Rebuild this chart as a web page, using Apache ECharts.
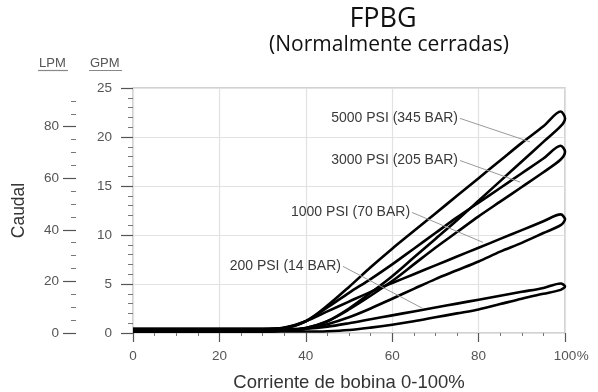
<!DOCTYPE html>
<html>
<head>
<meta charset="utf-8">
<script src="https://cdn.jsdelivr.net/npm/echarts@6/dist/echarts.min.js"></script>
<style>
  html, body { margin: 0; padding: 0; background: #fff; }
  #chart { width: 598px; height: 392px; }
</style>
</head>
<body>
<div id="chart"></div>
<script>
// ---- Data (x = % bobbin current, y = GPM) ----
const xRise = [0, 30, 35, 40, 45, 50, 55, 60, 65, 70, 75, 80, 85, 90, 95, 99];   // increasing current branch
const xFall = [99, 95, 90, 85, 80, 75, 70, 65, 60, 55, 50, 45, 40, 35, 30, 0];   // decreasing current branch
const xTip = 100;

const pressures = ['5000 PSI (345 BAR)', '3000 PSI (205 BAR)', '1000 PSI (70 BAR)', '200 PSI (14 BAR)'];

const rise5000 = [0.15, 0.15, 0.25, 0.5, 1.2, 2.5, 4.1, 5.8, 7.7, 9.6, 11.5, 13.5, 15.5, 17.5, 19.5, 21.1];
const tip5000 = 21.9;
const fall5000 = [22.6, 21.1, 19.4, 17.6, 15.8, 14.0, 12.2, 10.4, 8.6, 6.7, 4.7, 2.8, 1.2, 0.5, 0.4, 0.4];

const rise3000 = [0.15, 0.15, 0.25, 0.5, 1.2, 2.4, 3.8, 5.3, 7.0, 8.7, 10.3, 11.9, 13.4, 14.9, 16.4, 17.7];
const tip3000 = 18.5;
const fall3000 = [19.1, 17.8, 16.3, 14.8, 13.3, 11.8, 10.2, 8.6, 7.0, 5.5, 4.1, 2.6, 1.2, 0.5, 0.4, 0.4];

const rise1000 = [0.15, 0.15, 0.25, 0.45, 0.9, 1.6, 2.5, 3.5, 4.5, 5.5, 6.4, 7.3, 8.3, 9.2, 10.2, 11.0];
const tip1000 = 11.6;
const fall1000 = [12.1, 11.4, 10.5, 9.6, 8.7, 7.8, 6.9, 6.0, 5.1, 4.2, 3.2, 2.2, 1.2, 0.55, 0.4, 0.4];

const rise200 = [0.15, 0.15, 0.15, 0.15, 0.18, 0.3, 0.55, 0.85, 1.2, 1.6, 2.0, 2.4, 2.95, 3.5, 4.0, 4.4];
const tip200 = 4.75;
const fall200 = [5.05, 4.6, 4.2, 3.8, 3.4, 3.0, 2.6, 2.2, 1.8, 1.4, 1.0, 0.65, 0.45, 0.4, 0.4, 0.4];

// annotation leader lines: label anchor -> point on the loop
const labelStart = [[75.7, 21.9], [75.7, 17.6], [64.6, 12.3], [48.6, 6.8]];
const labelEnd = [[91.9, 19.5], [89.6, 15.4], [81.0, 9.25], [67.1, 2.5]];

const gpmMax = 25;
const gpmTicks = 5;
const lpmMax = 95;
const lpmLabels = [0, 20, 40, 60, 80];

// ---- Build ----
function loop(rise, tip, fall) {
  const pts = [];
  xRise.forEach((x, i) => pts.push([x, rise[i]]));
  pts.push([xTip, tip]);
  xFall.forEach((x, i) => pts.push([x, fall[i]]));
  return pts;
}
const loops = [
  loop(rise5000, tip5000, fall5000),
  loop(rise3000, tip3000, fall3000),
  loop(rise1000, tip1000, fall1000),
  loop(rise200, tip200, fall200)
];

const labelFont = '"Liberation Sans", Arial, Helvetica, sans-serif';

const series = loops.map((pts, i) => ({
  type: 'line',
  name: pressures[i],
  data: pts,
  smooth: 0.3,
  showSymbol: false,
  symbol: 'none',
  clip: false,
  lineStyle: { color: '#000', width: 2.6 },
  markLine: {
    silent: true,
    symbol: ['none', 'none'],
    animation: false,
    lineStyle: { color: '#9a9a9a', width: 1, type: 'solid' },
    label: { show: false },
    data: [[{ coord: labelStart[i] }, { coord: labelEnd[i] }]]
  },
  markPoint: {
    silent: true,
    symbol: 'circle',
    symbolSize: 0,
    animation: false,
    label: {
      show: true,
      position: 'left',
      distance: 2,
      formatter: pressures[i],
      color: '#3a3a3a',
      fontSize: 14,
      fontFamily: labelFont
    },
    data: [{ coord: labelStart[i] }]
  }
}));

const chart = echarts.init(document.getElementById('chart'), null, { renderer: 'canvas' });
chart.setOption({
  animation: false,
  backgroundColor: '#fff',
  title: [
    { text: 'FPBG', left: 378, top: 1, textAlign: 'center',
      textStyle: { fontFamily: '"Open Sans", sans-serif', fontSize: 27, fontWeight: 'normal', color: '#111' } },
    { text: '(Normalmente cerradas)', left: 384, top: 30, textAlign: 'center',
      textStyle: { fontFamily: '"Open Sans", sans-serif', fontSize: 21, fontWeight: 'normal', color: '#111' } }
  ],
  grid: {
    left: 133, right: 33, top: 88, bottom: 59,
    containLabel: false, outerBoundsMode: 'none',
    show: true, borderColor: '#c4c4c4', borderWidth: 1.5, backgroundColor: 'transparent'
  },
  xAxis: {
    type: 'value', min: 0, max: 100, interval: 20, offset: 5,
    name: 'Corriente de bobina 0-100%', nameLocation: 'middle', nameGap: 35,
    nameTextStyle: { fontFamily: labelFont, fontSize: 18.5, color: '#333' },
    axisLine: { show: false },
    axisTick: { show: true, length: 9, lineStyle: { color: '#555', width: 1.2 } },
    minorTick: { show: true, splitNumber: 4, length: 3, lineStyle: { color: '#777', width: 1 } },
    splitLine: { show: true, lineStyle: { color: '#e2e2e2', width: 1.2 } },
    axisLabel: {
      margin: 11, fontFamily: labelFont, fontSize: 13.5, color: '#555',
      formatter: v => v === 100 ? '{pad|}{n|100}{p|%}' : String(v),
      rich: {
        pad: { width: 13 },
        n: { fontFamily: labelFont, fontSize: 13.5, color: '#555' },
        p: { fontFamily: labelFont, fontSize: 13.5, color: '#555', width: 13, align: 'left' }
      }
    }
  },
  yAxis: [
    {
      type: 'value', min: 0, max: gpmMax, interval: gpmTicks, position: 'left', offset: 6,
      axisLine: { show: false },
      axisTick: { show: true, length: 12, lineStyle: { color: '#555', width: 1.2 } },
      minorTick: { show: true, splitNumber: 5, length: 5, lineStyle: { color: '#777', width: 1 } },
      splitLine: { show: true, lineStyle: { color: '#e2e2e2', width: 1.2 } },
      axisLabel: { margin: 15, fontFamily: labelFont, fontSize: 13.5, color: '#555' }
    },
    {
      type: 'value', min: 0, max: lpmMax, interval: 20, position: 'left', offset: 57,
      name: 'Caudal', nameLocation: 'middle', nameGap: 48, nameRotate: 90,
      nameTextStyle: { fontFamily: labelFont, fontSize: 17.5, color: '#333' },
      axisLine: { show: false },
      axisTick: { show: true, length: 13, customValues: lpmLabels, lineStyle: { color: '#555', width: 1.2 } },
      minorTick: { show: true, splitNumber: 4, length: 5, lineStyle: { color: '#777', width: 1 } },
      splitLine: { show: false },
      axisLabel: { margin: 17, customValues: lpmLabels, fontFamily: labelFont, fontSize: 13.5, color: '#555' }
    }
  ],
  graphic: [
    { type: 'text', left: 39, top: 57, style: { text: 'LPM', fontFamily: labelFont, fontSize: 13, fill: '#555' } },
    { type: 'line', shape: { x1: 38, y1: 70.5, x2: 68, y2: 70.5 }, style: { stroke: '#888', lineWidth: 1.2 } },
    { type: 'text', left: 90, top: 57, style: { text: 'GPM', fontFamily: labelFont, fontSize: 13, fill: '#555' } },
    { type: 'line', shape: { x1: 89, y1: 70.5, x2: 122, y2: 70.5 }, style: { stroke: '#888', lineWidth: 1.2 } }
  ],
  series: series
});
</script>
</body>
</html>
